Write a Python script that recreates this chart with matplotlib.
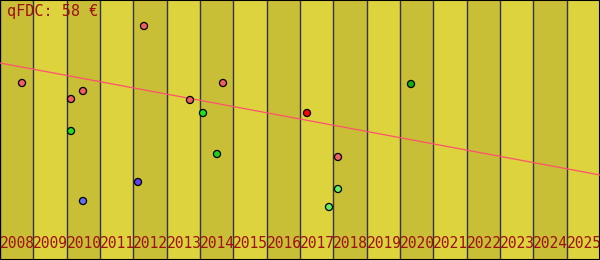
import matplotlib
matplotlib.use("Agg")
import matplotlib.pyplot as plt

years = list(range(2008, 2026))
pt_x = [2008.66, 2010.13, 2010.49, 2010.13, 2010.49, 2012.32, 2012.14, 2013.70,
        2014.09, 2014.69, 2014.51, 2017.21, 2018.14, 2018.14, 2017.87, 2020.33]
pt_y = [177, 161, 169, 129, 59, 234, 78, 160, 147, 177, 106, 147, 103, 71, 53, 176]
pt_c = ["#f06060", "#f06060", "#f06060", "#20e020", "#6070f0", "#f06060", "#6040f0", "#f06060",
        "#20e020", "#f06060", "#20d020", "#ff0000", "#f06060", "#60f060", "#60f060", "#10b010"]
trend_x = [2008, 2026]
trend_y = [197, 85]
title = "qFDC: 58 €"

fig = plt.figure(figsize=(6, 2.6), dpi=100)
ax = fig.add_axes([0, 0, 1, 1])
ax.set_xlim(2008, 2026)
ax.set_ylim(0, 260)
for i, yr in enumerate(years):
    ax.axvspan(yr, yr + 1, color="#c9bf36" if i % 2 == 0 else "#ddd33d", lw=0, zorder=0)
    ax.axvline(yr, color="#333344", lw=1, zorder=1)
    ax.text(yr, 9, str(yr), family="DejaVu Sans Mono", fontsize=10.5, color="#a01010",
            ha="left", va="bottom", zorder=2)
ax.plot(trend_x, trend_y, color="#ff5070", lw=0.9, zorder=3)
ax.scatter(pt_x, pt_y, c=pt_c, s=26, edgecolors="black", linewidths=0.9, zorder=4)
ax.text(0.012, 0.985, title, transform=ax.transAxes, family="DejaVu Sans Mono",
        fontsize=11, color="#a01010", ha="left", va="top", zorder=5)
ax.set_xticks([])
ax.set_yticks([])
for s in ax.spines.values():
    s.set_color("black")
    s.set_linewidth(1.5)
fig.savefig("out.png", dpi=100)
